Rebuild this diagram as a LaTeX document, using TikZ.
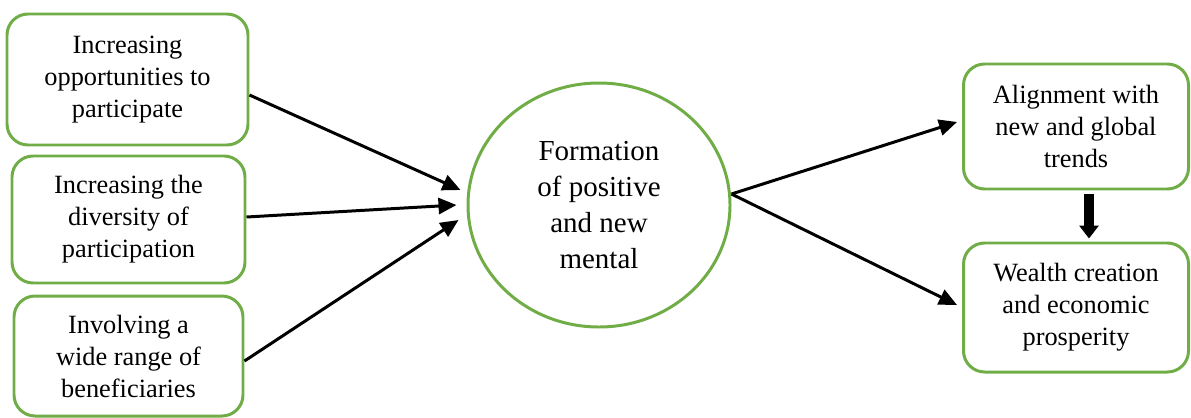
\documentclass[tikz,border=0pt]{standalone}
\usepackage{fontspec}
\setmainfont{Liberation Serif}
\usepackage{tikz}
\usetikzlibrary{positioning,arrows.meta,shapes.geometric}
\definecolor{boxgreen}{HTML}{70AD47}

\begin{document}
\begin{tikzpicture}[
    factor/.style={draw=boxgreen, rounded corners=12pt, line width=1.7pt,
                   fill=white, align=center, font=\fontsize{15}{18.2}\selectfont},
    core/.style={draw=boxgreen, ellipse, line width=1.7pt, align=center,
                 font=\fontsize{16.5}{20.5}\selectfont},
    link/.style={line width=1.7pt, -{Triangle[length=0.36cm,width=0.32cm]}},
]
\useasboundingbox (0,0) rectangle (23.82,-8.34);
\node[factor, minimum width=4.82cm, minimum height=2.62cm] (f1) at (2.55,-1.59)
    {Increasing\\opportunities to\\participate};
\node[factor, minimum width=4.66cm, minimum height=2.54cm] (f2) at (2.57,-4.39)
    {Increasing the\\diversity of\\participation};
\node[factor, minimum width=4.58cm, minimum height=2.4cm] (f3) at (2.57,-7.12)
    {Involving a\\wide range of\\beneficiaries};
\node[core, minimum width=5.24cm, minimum height=4.88cm] (mind) at (11.98,-4.10)
    {Formation\\of positive\\and new\\mental};
\node[factor, minimum width=4.5cm, minimum height=2.5cm] (r1) at (21.52,-2.53)
    {Alignment with\\new and global\\trends};
\node[factor, minimum width=4.5cm, minimum height=2.58cm] (r2) at (21.52,-6.15)
    {Wealth creation\\and economic\\prosperity};

\draw[link] ([yshift=-0.31cm]f1.east) -- ([xshift=-0.12cm,yshift=0.3cm]mind.west);
\draw[link] ([yshift=0.05cm]f2.east) -- ([xshift=-0.2cm]mind.west);
\draw[link] ([yshift=-0.1cm]f3.east) -- ([xshift=-0.16cm,yshift=-0.3cm]mind.west);
\draw[link] ([yshift=0.22cm]mind.east) -- ([xshift=-0.1cm,yshift=0.09cm]r1.west);
\draw[link] ([yshift=0.22cm]mind.east) -- ([xshift=-0.1cm,yshift=0.05cm]r2.west);
\draw[line width=0.2cm, -{Triangle[length=0.26cm,width=0.38cm]}]
    ([xshift=0.26cm,yshift=-0.08cm]r1.south) -- ([xshift=0.26cm,yshift=0.06cm]r2.north);
\end{tikzpicture}
\end{document}
